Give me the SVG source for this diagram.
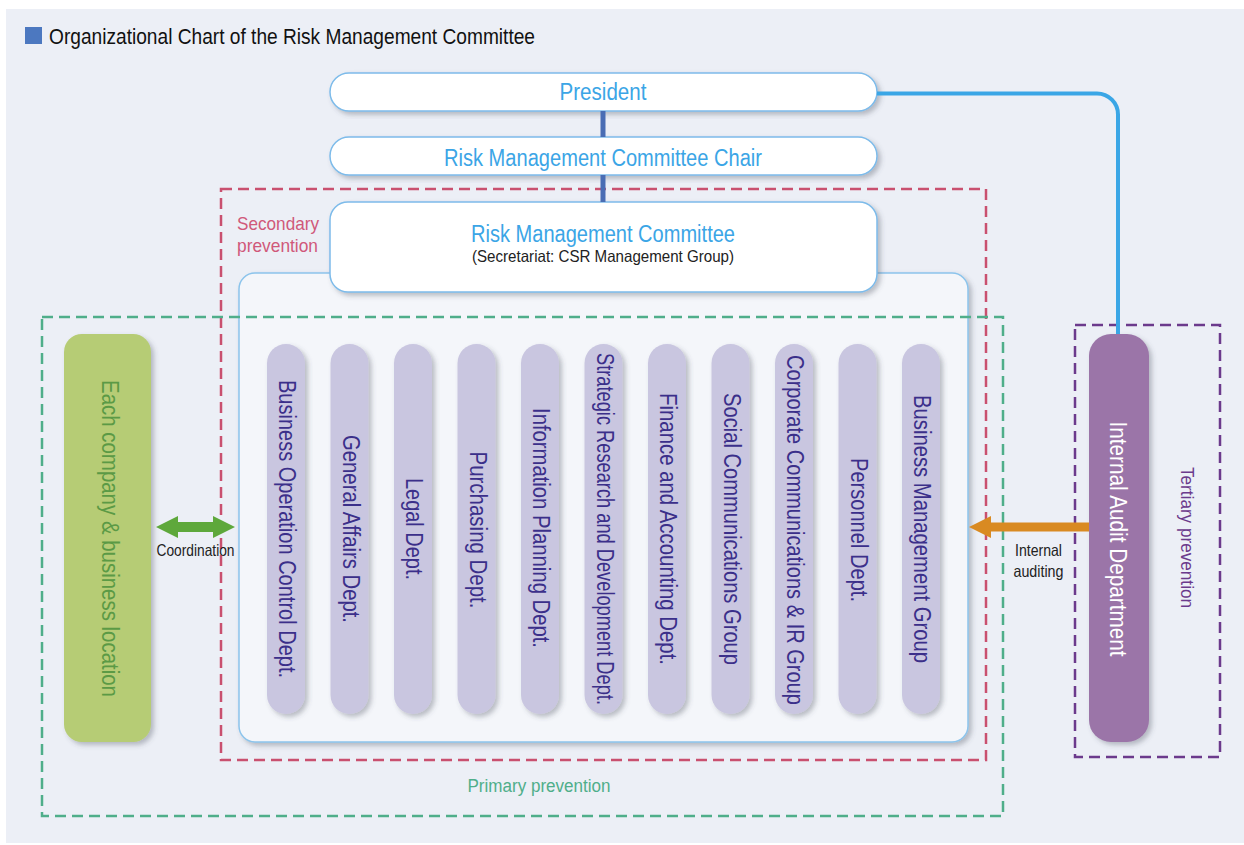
<svg xmlns="http://www.w3.org/2000/svg" width="1244" height="845" viewBox="0 0 1244 845">
<defs>
<filter id="sh" x="-20%" y="-20%" width="140%" height="140%">
<feDropShadow dx="3" dy="3" stdDeviation="2.5" flood-color="#4a5060" flood-opacity="0.35"/>
</filter>
<style>
text{font-family:"Liberation Sans",Arial,sans-serif}
.box{fill:#ffffff;stroke:#7dbbea;stroke-width:1.5}
.btxt{fill:#3ba5e6;font-size:23px;text-anchor:middle}
.pill{fill:#c9c6e0}
.ptxt{fill:#3b2f8a;font-size:23px;text-anchor:middle}
.dash{fill:none;stroke-width:2.5;stroke-dasharray:11 6}
.lbl{fill:#222;font-size:16.5px;text-anchor:middle}
</style>
</defs>
<rect x="0" y="0" width="1244" height="845" fill="#ffffff"/>
<rect x="6" y="9" width="1238" height="834" fill="#eceff6"/>

<g id="title">
<rect x="25" y="27" width="17" height="17" fill="#4c78c0"/>
<text x="49" y="44" font-size="22.5" fill="#111" textLength="486" lengthAdjust="spacingAndGlyphs">Organizational Chart of the Risk Management Committee</text>
</g>

<g id="president">
<rect class="box" x="330" y="73" width="547" height="38" rx="19" filter="url(#sh)"/>
<text class="btxt" x="603" y="100" font-size="22" textLength="87" lengthAdjust="spacingAndGlyphs">President</text>
</g>

<g id="chair">
<rect class="box" x="330" y="137" width="547" height="38" rx="19" filter="url(#sh)"/>
<text class="btxt" x="603" y="166" textLength="318" lengthAdjust="spacingAndGlyphs">Risk Management Committee Chair</text>
</g>

<g id="dept-container">
<rect x="239" y="273" width="729" height="469" rx="16" fill="#f4f6fa" stroke="#8cc4ec" stroke-width="1.5" filter="url(#sh)"/>
</g>

<g id="committee">
<rect class="box" x="330" y="202" width="547" height="90" rx="18" filter="url(#sh)"/>
<text class="btxt" x="603" y="242" textLength="264" lengthAdjust="spacingAndGlyphs">Risk Management Committee</text>
<text x="603" y="262" font-size="16.5" fill="#222" text-anchor="middle" textLength="262" lengthAdjust="spacingAndGlyphs">(Secretariat: CSR Management Group)</text>
</g>

<g id="depts">
<g id="dept-1"><rect class="pill" x="267" y="344" width="38" height="370" rx="19" filter="url(#sh)"/><text class="ptxt" transform="translate(286,529) rotate(90)" x="0" y="7" textLength="298" lengthAdjust="spacingAndGlyphs">Business Operation Control Dept.</text></g>
<g id="dept-2"><rect class="pill" x="330.5" y="344" width="38" height="370" rx="19" filter="url(#sh)"/><text class="ptxt" transform="translate(349.5,529) rotate(90)" x="0" y="7" textLength="188" lengthAdjust="spacingAndGlyphs">General Affairs Dept.</text></g>
<g id="dept-3"><rect class="pill" x="394" y="344" width="38" height="370" rx="19" filter="url(#sh)"/><text class="ptxt" transform="translate(413,529) rotate(90)" x="0" y="7" textLength="102" lengthAdjust="spacingAndGlyphs">Legal Dept.</text></g>
<g id="dept-4"><rect class="pill" x="457.5" y="344" width="38" height="370" rx="19" filter="url(#sh)"/><text class="ptxt" transform="translate(476.5,530) rotate(90)" x="0" y="7" textLength="157" lengthAdjust="spacingAndGlyphs">Purchasing Dept.</text></g>
<g id="dept-5"><rect class="pill" x="521" y="344" width="38" height="370" rx="19" filter="url(#sh)"/><text class="ptxt" transform="translate(540,528) rotate(90)" x="0" y="7" textLength="240" lengthAdjust="spacingAndGlyphs">Information Planning Dept.</text></g>
<g id="dept-6"><rect class="pill" x="584.5" y="344" width="38" height="370" rx="19" filter="url(#sh)"/><text class="ptxt" transform="translate(603.5,529) rotate(90)" x="0" y="7" textLength="352" lengthAdjust="spacingAndGlyphs">Strategic Research and Development Dept.</text></g>
<g id="dept-7"><rect class="pill" x="648" y="344" width="38" height="370" rx="19" filter="url(#sh)"/><text class="ptxt" transform="translate(667,529) rotate(90)" x="0" y="7" textLength="272" lengthAdjust="spacingAndGlyphs">Finance and Accounting Dept.</text></g>
<g id="dept-8"><rect class="pill" x="711.5" y="344" width="38" height="370" rx="19" filter="url(#sh)"/><text class="ptxt" transform="translate(730.5,529) rotate(90)" x="0" y="7" textLength="272" lengthAdjust="spacingAndGlyphs">Social Communications Group</text></g>
<g id="dept-9"><rect class="pill" x="775" y="344" width="38" height="370" rx="19" filter="url(#sh)"/><text class="ptxt" transform="translate(794,530) rotate(90)" x="0" y="7" textLength="350" lengthAdjust="spacingAndGlyphs">Corporate Communications &amp; IR Group</text></g>
<g id="dept-10"><rect class="pill" x="838.5" y="344" width="38" height="370" rx="19" filter="url(#sh)"/><text class="ptxt" transform="translate(857.5,530) rotate(90)" x="0" y="7" textLength="144" lengthAdjust="spacingAndGlyphs">Personnel Dept.</text></g>
<g id="dept-11"><rect class="pill" x="902" y="344" width="38" height="370" rx="19" filter="url(#sh)"/><text class="ptxt" transform="translate(921,529) rotate(90)" x="0" y="7" textLength="268" lengthAdjust="spacingAndGlyphs">Business Management Group</text></g>
</g>

<g id="company">
<rect x="64" y="334" width="87" height="408" rx="18" fill="#b6cc74" filter="url(#sh)"/>
<text transform="translate(107.5,538.5) rotate(90)" x="0" y="5.5" font-size="23.5" fill="#5b9a45" text-anchor="middle" textLength="317" lengthAdjust="spacingAndGlyphs">Each company &amp; business location</text>
</g>

<g id="audit">
<rect x="1089" y="334" width="60" height="408" rx="22" fill="#9b75a8" filter="url(#sh)"/>
<text transform="translate(1119,539) rotate(90)" x="0" y="9" font-size="23" fill="#ffffff" text-anchor="middle" textLength="235" lengthAdjust="spacingAndGlyphs">Internal Audit Department</text>
</g>

<g id="secondary-prevention">
<rect class="dash" x="221" y="189" width="765" height="571" stroke="#c9506f"/>
<text x="237" y="230" font-size="19" fill="#d0587a" textLength="82" lengthAdjust="spacingAndGlyphs">Secondary</text>
<text x="237" y="252" font-size="19" fill="#d0587a" textLength="81" lengthAdjust="spacingAndGlyphs">prevention</text>
</g>

<g id="primary-prevention">
<rect class="dash" x="42" y="317" width="961" height="499" stroke="#4fae8a"/>
<text x="539" y="792" font-size="18" fill="#4fae8a" text-anchor="middle" textLength="143" lengthAdjust="spacingAndGlyphs">Primary prevention</text>
</g>

<g id="tertiary-prevention">
<rect class="dash" x="1075" y="325" width="145" height="432" stroke="#6b3a8c"/>
<text transform="translate(1187.5,537.5) rotate(90)" x="0" y="6.5" font-size="19" fill="#6b3a8c" text-anchor="middle" textLength="141" lengthAdjust="spacingAndGlyphs">Tertiary prevention</text>
</g>

<g id="connectors">
<line x1="603" y1="111" x2="603" y2="137" stroke="#4a6db4" stroke-width="5"/>
<line x1="603" y1="175" x2="603" y2="202" stroke="#4a6db4" stroke-width="5"/>
<path d="M877,93.5 H1097 A21,21 0 0 1 1118,114.5 V334" fill="none" stroke="#3aa6e6" stroke-width="4"/>
<polygon points="156,527 178,516 178,522 213,522 213,516 235,527 213,538 213,532 178,532 178,538" fill="#5ea83b"/>
<text class="lbl" x="195.5" y="556" textLength="78" lengthAdjust="spacingAndGlyphs">Coordination</text>
<polygon points="969,527 991,516 991,522.5 1089,522.5 1089,531.5 991,531.5 991,538" fill="#d98a22"/>
<text class="lbl" x="1038.5" y="556" textLength="47" lengthAdjust="spacingAndGlyphs">Internal</text>
<text class="lbl" x="1038.5" y="576.5" textLength="50" lengthAdjust="spacingAndGlyphs">auditing</text>
</g>
</svg>
